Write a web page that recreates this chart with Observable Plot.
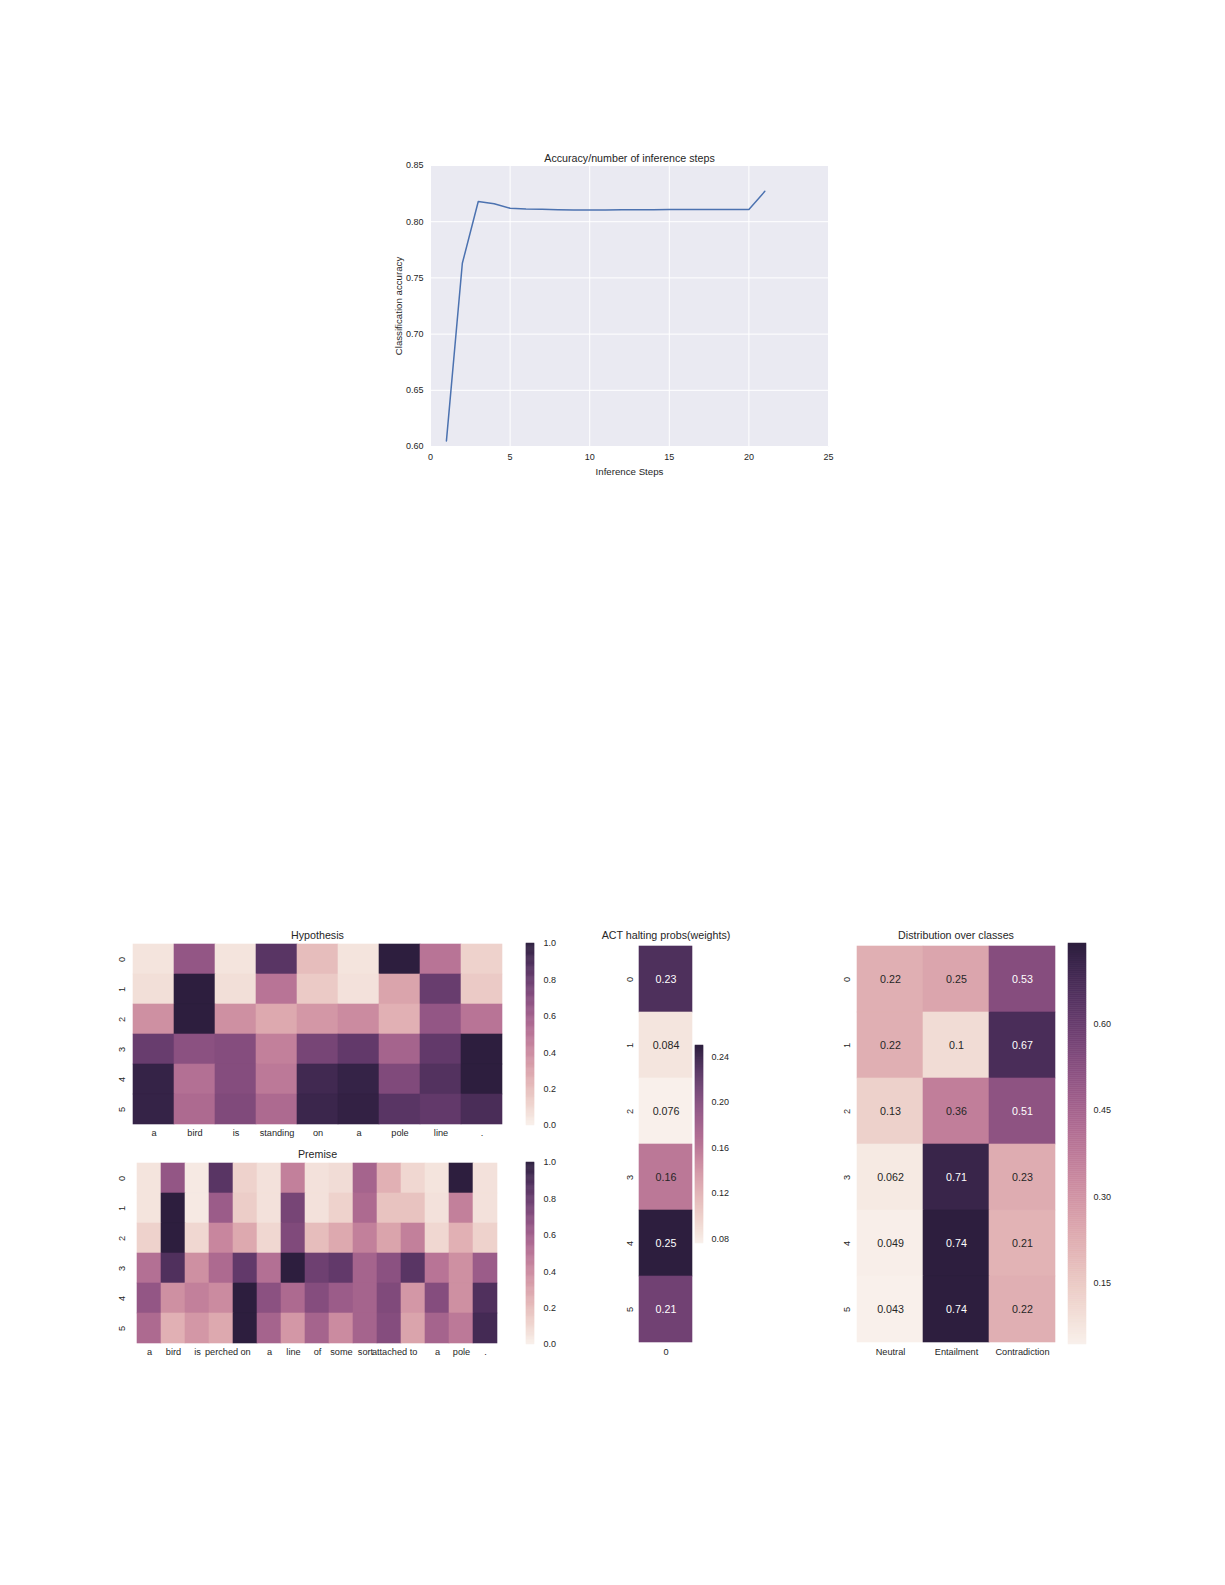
<!DOCTYPE html>
<html><head><meta charset="utf-8">
<script src="https://cdn.jsdelivr.net/npm/d3@7"></script>
<script src="https://cdn.jsdelivr.net/npm/@observablehq/plot@0.6"></script>
<style>
html,body{margin:0;padding:0;background:#fff;}
#root{position:relative;width:1225px;height:1585px;overflow:hidden;background:#fff;}
#root svg{overflow:visible;display:block;max-width:none;}
.abs{position:absolute;}
</style></head><body><div id="root"></div>
<script>
const FONT = '"Liberation Sans", Arial, Helvetica, sans-serif';
const INK = "#262626";

// ---- Line chart data ----
const stepValues = [1,2,3,4,5,6,7,8,9,10,11,12,13,14,15,16,17,18,19,20,21];
const accuracyValues = [0.605,0.763,0.818,0.816,0.812,0.8113,0.811,0.8107,0.8105,0.8103,0.8105,0.8107,0.8107,0.8107,0.8108,0.8108,0.8108,0.8108,0.8108,0.8108,0.827];
const stepTicks = [0,5,10,15,20,25];
const accuracyTicks = [0.60,0.65,0.70,0.75,0.80,0.85];

// ---- Hypothesis attention ----
const hypothesisTokens = ["a","bird","is","standing","on","a","pole","line","."];
const hypothesisWeights = [
  [0.05,0.65,0.05,0.85,0.20,0.05,1.00,0.50,0.12],
  [0.07,1.00,0.07,0.50,0.15,0.06,0.30,0.80,0.15],
  [0.38,1.00,0.38,0.28,0.35,0.40,0.25,0.65,0.50],
  [0.80,0.68,0.70,0.45,0.75,0.82,0.58,0.82,1.00],
  [0.97,0.52,0.70,0.48,0.93,0.97,0.72,0.87,1.00],
  [0.97,0.55,0.72,0.55,0.95,0.98,0.85,0.82,0.90]
];
// ---- Premise attention ----
const premiseTokens = ["a","bird","is","perched","on","a","line","of","some","sort","attached","to","a","pole","."];
const premiseWeights = [
  [0.05,0.65,0.03,0.85,0.12,0.06,0.45,0.06,0.08,0.58,0.25,0.10,0.05,1.00,0.06],
  [0.05,1.00,0.03,0.62,0.14,0.06,0.75,0.06,0.12,0.55,0.18,0.18,0.06,0.45,0.06],
  [0.12,1.00,0.10,0.42,0.28,0.10,0.72,0.20,0.28,0.45,0.30,0.45,0.10,0.25,0.12],
  [0.52,0.88,0.38,0.55,0.82,0.52,1.00,0.78,0.82,0.58,0.68,0.85,0.50,0.38,0.62],
  [0.65,0.38,0.45,0.40,1.00,0.68,0.55,0.70,0.62,0.58,0.72,0.35,0.70,0.38,0.88],
  [0.55,0.25,0.35,0.28,1.00,0.58,0.35,0.58,0.40,0.58,0.70,0.30,0.58,0.48,0.92]
];
const attentionDomain = [0, 1];
const attentionTicks = [0,0.2,0.4,0.6,0.8,1.0];

// ---- ACT halting probabilities ----
const haltingColumn = ["0"];
const haltingProbs = [[0.23],[0.084],[0.076],[0.16],[0.25],[0.21]];
const haltingTicks = [0.08,0.12,0.16,0.20,0.24];

// ---- Distribution over classes ----
const classNames = ["Neutral","Entailment","Contradiction"];
const classProbs = [
  [0.22,0.25,0.53],
  [0.22,0.10,0.67],
  [0.13,0.36,0.51],
  [0.062,0.71,0.23],
  [0.049,0.74,0.21],
  [0.043,0.74,0.22]
];
const classTicks = [0.15,0.30,0.45,0.60];

// ---- seaborn cubehelix_palette(light=.95, as_cmap=True) ----
function cubeRGB(t) {
  t = Math.max(0, Math.min(1, t));
  const x = 0.95 + (0.15 - 0.95) * t;
  const gamma = 1, start = 0, rot = 0.4, hue = 0.8;
  const xg = Math.pow(x, gamma);
  const a = hue * xg * (1 - xg) / 2;
  const phi = 2 * Math.PI * (start / 3 + rot * x);
  const c = Math.cos(phi), s = Math.sin(phi);
  const cl = v => Math.max(0, Math.min(1, v));
  return [cl(xg + a * (-0.14861 * c + 1.78277 * s)),
          cl(xg + a * (-0.29227 * c - 0.90649 * s)),
          cl(xg + a * (1.97294 * c))];
}
function colorAt(t) {
  const [r, g, b] = cubeRGB(t);
  return `rgb(${Math.round(r*255)},${Math.round(g*255)},${Math.round(b*255)})`;
}
function lightness(t) { const c = cubeRGB(t); return (Math.max(...c) + Math.min(...c)) / 2; }

const root = document.getElementById("root");
function put(node, left, top) {
  const d = document.createElement("div");
  d.className = "abs";
  d.style.left = left + "px";
  d.style.top = top + "px";
  d.appendChild(node);
  root.appendChild(d);
}

function heatmapPlot({rows, labels, domain, frameW, frameH, title, annotate, fmt, titleDy = -8}) {
  const ml = 24, mr = 2, mt = 16, mb = 20;
  const cells = rows.flatMap((r, i) => r.map((v, j) => ({row: i, col: j, v})));
  const norm = v => (v - domain[0]) / (domain[1] - domain[0]);
  const isDark = d => lightness(norm(d.v)) <= 0.5;
  const marks = [
    Plot.cell(cells, {x: "col", y: "row", fill: "v", stroke: "v", strokeWidth: 0.6, inset: 0})
  ];
  if (annotate) {
    marks.push(Plot.text(cells.filter(isDark), {x: "col", y: "row", text: d => fmt(d.v), fill: "white", fontSize: 10.7}));
    marks.push(Plot.text(cells.filter(d => !isDark(d)), {x: "col", y: "row", text: d => fmt(d.v), fill: INK, fontSize: 10.7}));
  }
  marks.push(Plot.text([title], {frameAnchor: "top", dy: titleDy, text: d => d, fontSize: 10.7, fill: INK, textAnchor: "middle", lineAnchor: "middle"}));
  return Plot.plot({
    width: ml + frameW + mr, height: mt + frameH + mb,
    marginLeft: ml, marginRight: mr, marginTop: mt, marginBottom: mb,
    style: {fontFamily: FONT, fontSize: "9.2px", color: INK, background: "transparent", overflow: "visible"},
    x: {type: "band", domain: d3.range(rows[0].length), padding: 0, tickSize: 0, tickPadding: 4, tickFormat: i => labels[i], label: null},
    y: {type: "band", domain: d3.range(rows.length), padding: 0, tickSize: 0, tickPadding: 7, tickRotate: -90, label: null},
    color: {type: "linear", domain, interpolate: colorAt},
    marks
  });
}

function colorbarPlot({domain, ticks, fmt, barW, barH, pad}) {
  const n = 200;
  const span = domain[1] - domain[0];
  const slices = d3.range(n).map(i => ({lo: domain[0] + span * i / n, hi: domain[0] + span * (i + 1) / n}));
  return Plot.plot({
    width: barW + 40, height: barH + 12,
    marginLeft: 0, marginRight: 40, marginTop: 6, marginBottom: 6,
    style: {fontFamily: FONT, fontSize: "9px", color: INK, background: "transparent", overflow: "visible"},
    y: {domain, ticks, tickFormat: fmt, tickSize: 0, tickPadding: pad, axis: "right", label: null},
    color: {type: "linear", domain, interpolate: colorAt},
    marks: [Plot.rect(slices, {y1: "lo", y2: "hi", fill: d => (d.lo + d.hi) / 2, stroke: d => (d.lo + d.hi) / 2, strokeWidth: 0.5})]
  });
}

// ---- Line chart ----
const lineData = stepValues.map((s, i) => ({step: s, acc: accuracyValues[i]}));
const lineChart = Plot.plot({
  width: 60 + 398 + 14, height: 15 + 281 + 38,
  marginLeft: 60, marginRight: 14, marginTop: 15, marginBottom: 38,
  style: {fontFamily: FONT, fontSize: "9px", color: INK, background: "transparent", overflow: "visible"},
  x: {domain: [0, 25], ticks: stepTicks, tickSize: 0, tickPadding: 7, label: null},
  y: {domain: [0.60, 0.85], ticks: accuracyTicks, tickFormat: d3.format(".2f"), tickSize: 0, tickPadding: 7, label: null},
  marks: [
    Plot.frame({fill: "#EAEAF2", stroke: "none"}),
    Plot.gridX({ticks: stepTicks, stroke: "white", strokeOpacity: 1, strokeWidth: 1}),
    Plot.gridY({ticks: accuracyTicks, stroke: "white", strokeOpacity: 1, strokeWidth: 1}),
    Plot.line(lineData, {x: "step", y: "acc", stroke: "#4C72B0", strokeWidth: 1.5}),
    Plot.text(["Accuracy/number of inference steps"], {frameAnchor: "top", dy: -7, text: d => d, fontSize: 10.7, fill: INK, textAnchor: "middle", lineAnchor: "middle"}),
    Plot.text(["Inference Steps"], {frameAnchor: "bottom", dy: 25.5, text: d => d, fontSize: 9.7, fill: INK, textAnchor: "middle", lineAnchor: "middle"}),
    Plot.text(["Classification accuracy"], {frameAnchor: "left", dx: -32, rotate: -90, text: d => d, fontSize: 9.7, fill: INK, textAnchor: "middle", lineAnchor: "middle"})
  ]
});
put(lineChart, 370, 150);

// ---- Heatmaps ----
put(heatmapPlot({rows: hypothesisWeights, labels: hypothesisTokens, domain: attentionDomain, frameW: 372, frameH: 182, title: "Hypothesis"}), 107, 927);
put(colorbarPlot({domain: attentionDomain, ticks: attentionTicks, fmt: d3.format(".1f"), barW: 8, barH: 182, pad: 9}), 526, 937);

put(heatmapPlot({rows: premiseWeights, labels: premiseTokens, domain: attentionDomain, frameW: 372, frameH: 182, title: "Premise", titleDy: -8}), 107, 1146);
put(colorbarPlot({domain: attentionDomain, ticks: attentionTicks, fmt: d3.format(".1f"), barW: 8, barH: 182, pad: 9}), 526, 1156);

const haltDomain = d3.extent(haltingProbs.flat());
put(heatmapPlot({rows: haltingProbs, labels: haltingColumn, domain: haltDomain, frameW: 53, frameH: 401, title: "ACT halting probs(weights)", annotate: true, fmt: d3.format(".2~g")}), 615, 927);
put(colorbarPlot({domain: haltDomain, ticks: haltingTicks, fmt: d3.format(".2f"), barW: 8, barH: 198, pad: 8}), 695, 1039);

const classDomain = d3.extent(classProbs.flat());
put(heatmapPlot({rows: classProbs, labels: classNames, domain: classDomain, frameW: 199, frameH: 401, title: "Distribution over classes", annotate: true, fmt: d3.format(".2~g")}), 832, 927);
put(colorbarPlot({domain: classDomain, ticks: classTicks, fmt: d3.format(".2f"), barW: 18, barH: 401, pad: 7}), 1068, 937);
</script></body></html>
